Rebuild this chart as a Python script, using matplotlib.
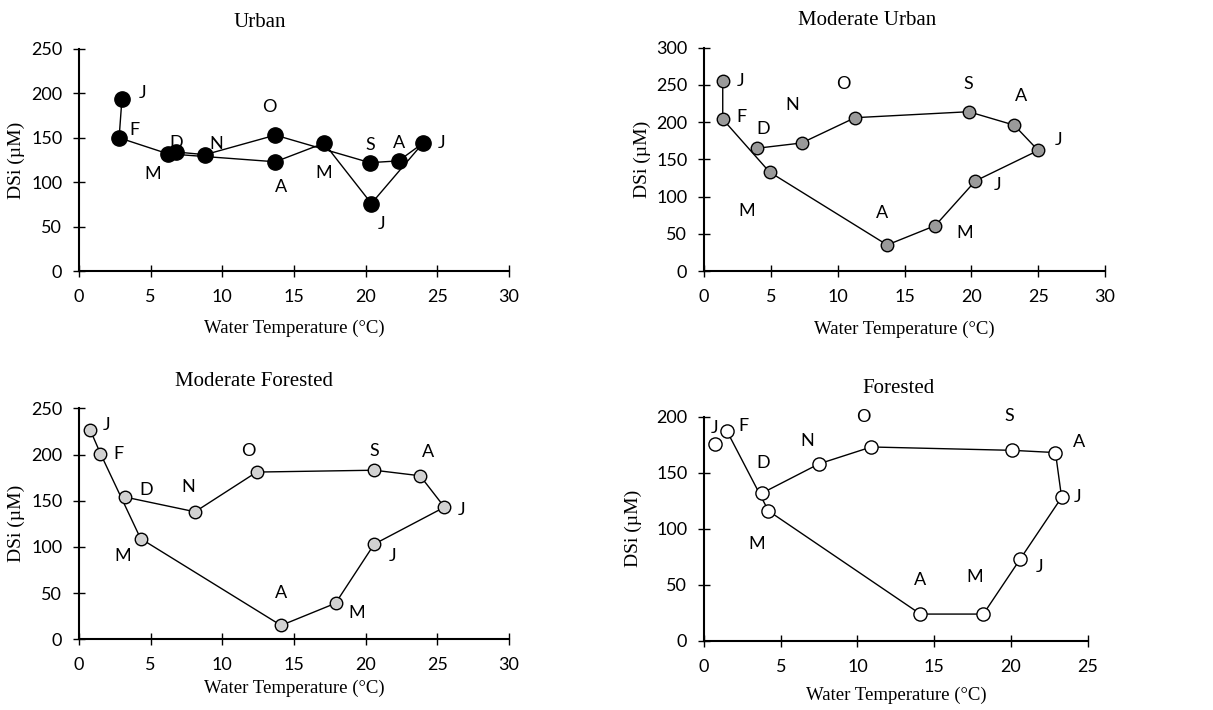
import numpy as np
import matplotlib
matplotlib.use('Agg')
import matplotlib.pyplot as plt

months = ['J', 'F', 'M', 'A', 'M', 'J', 'J', 'A', 'S', 'O', 'N', 'D']

# water temperature (deg C) and DSi (uM), Jan..Dec
urban_t = [3.0, 2.8, 6.2, 13.7, 17.1, 20.4, 24.0, 22.3, 20.3, 13.7, 8.8, 6.8]
urban_si = [194, 150, 132, 123, 144, 76, 144, 124, 122, 153, 131, 134]

modurb_t = [1.4, 1.4, 4.9, 13.7, 17.3, 20.3, 25.0, 23.2, 19.8, 11.3, 7.3, 4.0]
modurb_si = [255, 204, 133, 35, 61, 121, 162, 196, 214, 206, 172, 165]

modfor_t = [0.8, 1.5, 4.3, 14.1, 17.9, 20.6, 25.5, 23.8, 20.6, 12.4, 8.1, 3.2]
modfor_si = [226, 201, 109, 15, 39, 103, 143, 177, 183, 181, 138, 154]

forest_t = [0.7, 1.5, 4.2, 14.1, 18.2, 20.6, 23.3, 22.9, 20.1, 10.9, 7.5, 3.8]
forest_si = [176, 187, 116, 24, 24, 73, 128, 168, 170, 173, 158, 132]

# label offsets in pixels (not data)
urban_off = [(21, 6), (15, 8), (-15, -20), (6, -25), (0, -30), (10, -20),
             (19, 0), (0, 18), (0, 18), (-6, 28), (11, 11), (0, 9)]
modurb_off = [(18, 0), (19, 2), (-23, -39), (-5, 32), (29, -7), (22, -4),
              (20, 10), (7, 29), (0, 28), (-12, 34), (-9, 38), (6, 19)]
modfor_off = [(16, 5), (18, 0), (-18, -17), (0, 32), (21, -10), (18, -12),
              (17, -3), (8, 24), (0, 19), (-8, 21), (-7, 25), (21, 7)]
forest_off = [(0, 16), (16, 5), (-12, -33), (0, 34), (-9, 37), (19, -8),
              (16, 0), (24, 11), (-3, 34), (-8, 30), (-12, 23), (1, 30)]

panels = [
    # title, t, si, offsets, color, ms, rect, ymax, ystep, xmax, title pos, xlabel y, ylabel x, line start
    ('Urban', urban_t, urban_si, urban_off, 'black', 11,
     [0.0651, 0.6183, 0.3545, 0.3127], 250, 50, 30, (0.421, 1.118), -0.221, -0.126, 0),
    ('Moderate Urban', modurb_t, modurb_si, modurb_off, '#9a9a9a', 9,
     [0.5804, 0.6183, 0.3306, 0.3145], 300, 50, 30, (0.406, 1.121), -0.221, -0.132, 0),
    ('Moderate Forested', modfor_t, modfor_si, modfor_off, '#d2d2d2', 9,
     [0.0651, 0.0996, 0.3545, 0.3253], 250, 50, 30, (0.407, 1.115), -0.176, -0.126, 0),
    ('Forested', forest_t, forest_si, forest_off, 'white', 9.5,
     [0.5804, 0.0972, 0.3163, 0.3159], 200, 50, 25, (0.506, 1.127), -0.205, -0.162, 1),
]

serif = 'Liberation Serif'
sans = 'Lato'

fig = plt.figure(figsize=(12.13, 7.1), dpi=100)

for (title, t, si, off, col, ms, rect, ymax, ystep, xmax,
     tpos, xl_y, yl_x, start) in panels:
    ax = fig.add_axes(rect)
    ax.plot(t[start:], si[start:], '-', color='black', lw=1.0, zorder=2)
    ax.plot(t, si, 'o', ls='none', ms=ms, mfc=col, mec='black',
            mew=1.0, zorder=3)
    for x, y, lab, (dx, dy) in zip(t, si, months, off):
        ax.annotate(lab, (x, y), xytext=(dx, dy), textcoords='offset pixels',
                    ha='center', va='center', fontsize=13, family=sans,
                    zorder=4)
    ax.set_xlim(0, xmax)
    ax.set_ylim(0, ymax)
    ax.set_xticks(np.arange(0, xmax + 1, 5))
    ax.set_yticks(np.arange(0, ymax + 1, ystep))
    for s in ['top', 'right']:
        ax.spines[s].set_visible(False)
    for s in ['left', 'bottom']:
        ax.spines[s].set_linewidth(1.5)
    ax.tick_params(direction='inout', length=8, width=1.0, labelsize=13)
    ax.tick_params(axis='x', pad=9)
    ax.tick_params(axis='y', pad=8)
    for lbl in ax.get_xticklabels() + ax.get_yticklabels():
        lbl.set_family(sans)
    ax.text(tpos[0], tpos[1], title, transform=ax.transAxes, ha='center',
            va='center', fontsize=15, family=serif)
    ax.set_xlabel('Water Temperature (°C)', fontsize=13.5, family=serif)
    ax.set_ylabel('DSi (µM)', fontsize=14, family=serif)
    ax.xaxis.set_label_coords(0.5, xl_y)
    ax.yaxis.set_label_coords(yl_x, 0.5)
    ax.patch.set_alpha(0)

plt.savefig('out.png', dpi=100)
